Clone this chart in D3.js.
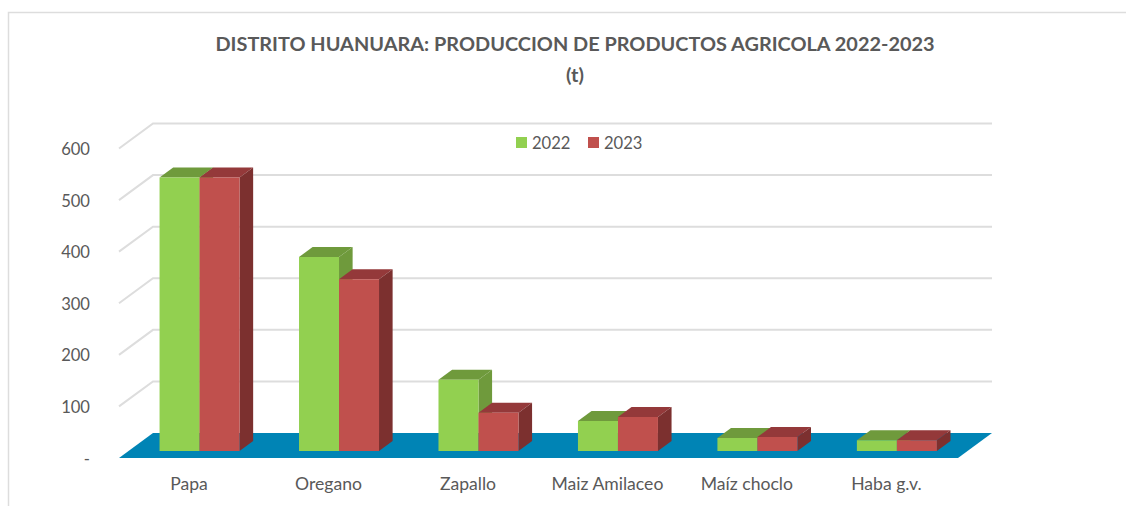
<!DOCTYPE html>
<html><head><meta charset="utf-8">
<script src="https://cdn.jsdelivr.net/npm/d3@7"></script>
<style>html,body{margin:0;padding:0;background:#fff}svg{display:block}text{font-family:Lato,"Open Sans",sans-serif}</style>
</head><body><svg id="c" width="1126" height="506"></svg>
<script>
const categories = ["Papa","Oregano","Zapallo","Maiz Amilaceo","Maíz choclo","Haba g.v."];
const years = ["2022","2023"];
const values2022 = [530,376,138,58,25,21];
const values2023 = [530,333,74,66,27,21];
const yTicks = [0,100,200,300,400,500,600];
const titleLines = ["DISTRITO HUANUARA: PRODUCCION DE PRODUCTOS AGRICOLA 2022-2023","(t)"];

const fills = {"2022":{front:"#92D050",top:"#6F9A3C",side:"#6F9A3C"},"2023":{front:"#C0504D",top:"#94393A",side:"#7C302F"}};
const svg = d3.select("#c");
const x = d3.scaleBand().domain(categories).range([120.3,957.1]);
const y = d3.scaleLinear().domain([0,600]).range([458,148.5]);
const depthX = 34, depthY = 25;
const P = (px,v,d)=>[px+d*depthX, y(v)-d*depthY];
const poly = pts => pts.map(p=>p.join(",")).join(" ");

// frame
svg.append("path").attr("d","M8.5,506V12.5H1126").attr("fill","none").attr("stroke","#DDDDDD").attr("stroke-width",1.5);

// title
svg.append("g").selectAll("text").data(titleLines).join("text")
  .attr("x",575).attr("y",(d,i)=>51+i*31).attr("text-anchor","middle")
  .attr("font-size",19.9).attr("font-weight",700).attr("fill","#595959").text(d=>d);

// gridlines (side wall + back wall)
const fx0 = 119, fx1 = 958;
svg.append("g").selectAll("polyline").data(yTicks.slice(1)).join("polyline")
  .attr("points",v=>poly([P(fx0,v,0),P(fx0,v,1),P(fx1,v,1)]))
  .attr("fill","none").attr("stroke","#DDDDDD").attr("stroke-width",2);

// floor
svg.append("polygon").attr("points",poly([P(fx0,0,0),P(fx0,0,1),P(fx1,0,1),P(fx1,0,0)])).attr("fill","#0084B5");

// y axis labels
svg.append("g").selectAll("text").data(yTicks).join("text")
  .attr("x",90).attr("y",v=>y(v)+6.5).attr("text-anchor","end")
  .attr("font-size",16.6).attr("fill","#595959").text(v=>v===0?"-":d3.format("d")(v));

// category labels
svg.append("g").selectAll("text").data(categories).join("text")
  .attr("x",c=>x(c)+x.bandwidth()/2-1).attr("y",490).attr("text-anchor","middle")
  .attr("font-size",17.6).attr("fill","#595959").text(c=>c);

// bars
const series = {"2022":values2022,"2023":values2023};
const barW = 40, d0 = 0.28, d1 = 0.68;
const bars = categories.flatMap((c,i)=>years.map((yr,j)=>({c,yr,j,v:series[yr][i]})));
const g = svg.append("g").selectAll("g").data(bars).join("g");
const lx = d=>x(d.c)+x.bandwidth()/2-barW+d.j*barW;
g.append("polygon").attr("points",d=>poly([P(lx(d),d.v,d0),P(lx(d),d.v,d1),P(lx(d)+barW,d.v,d1),P(lx(d)+barW,d.v,d0)])).attr("fill",d=>fills[d.yr].top);
g.append("polygon").attr("points",d=>poly([P(lx(d)+barW,0,d0),P(lx(d)+barW,0,d1),P(lx(d)+barW,d.v,d1),P(lx(d)+barW,d.v,d0)])).attr("fill",d=>fills[d.yr].side);
g.append("polygon").attr("points",d=>poly([P(lx(d),0,d0),P(lx(d)+barW,0,d0),P(lx(d)+barW,d.v,d0),P(lx(d),d.v,d0)])).attr("fill",d=>fills[d.yr].front);

// legend
const lg = svg.append("g").selectAll("g").data(years).join("g").attr("transform",(d,i)=>`translate(${516+i*72},137)`);
lg.append("rect").attr("width",11).attr("height",11).attr("fill",d=>fills[d].front);
lg.append("text").attr("x",16).attr("y",12).attr("font-size",16.6).attr("fill","#595959").text(d=>d);
</script></body></html>
